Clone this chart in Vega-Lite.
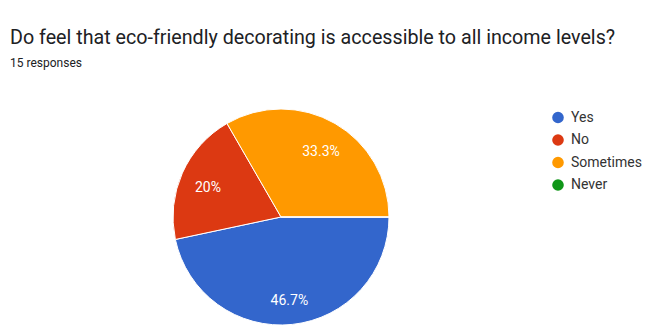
{
  "$schema": "https://vega.github.io/schema/vega-lite/v6.json",
  "autosize": "none",
  "width": 542,
  "height": 284,
  "padding": {"left": 10, "top": 75, "right": 93, "bottom": 0},
  "background": "white",
  "title": {
    "text": "Do feel that eco-friendly decorating is accessible to all income levels?",
    "subtitle": "15 responses",
    "anchor": "start",
    "frame": "group",
    "limit": 640,
    "font": "Roboto",
    "fontSize": 19.7,
    "fontWeight": "normal",
    "color": "#202124",
    "subtitleFont": "Roboto",
    "subtitleFontSize": 12,
    "subtitleColor": "#202124",
    "subtitlePadding": 10,
    "offset": 6
  },
  "data": {
    "values": [
      {"answer": "Yes", "responses": 7, "order": 1, "label": "46.7%"},
      {"answer": "No", "responses": 3, "order": 2, "label": "20%"},
      {"answer": "Sometimes", "responses": 5, "order": 3, "label": "33.3%"},
      {"answer": "Never", "responses": 0, "order": 4, "label": "0%"}
    ]
  },
  "encoding": {
    "theta": {
      "field": "responses",
      "type": "quantitative",
      "stack": true,
      "scale": {"range": [1.5707963, 7.8539816]}
    },
    "order": {"field": "order", "type": "quantitative"}
  },
  "layer": [
    {
      "mark": {"type": "arc", "outerRadius": 108, "stroke": "white", "strokeWidth": 1},
      "encoding": {
        "color": {
          "field": "answer",
          "type": "nominal",
          "scale": {
            "domain": ["Yes", "No", "Sometimes", "Never"],
            "range": ["#3366cc", "#dc3912", "#ff9900", "#109618"]
          },
          "legend": {
            "title": null,
            "orient": "none",
            "legendX": 541,
            "legendY": 35.5,
            "symbolType": "circle",
            "symbolSize": 135,
            "symbolStrokeWidth": 0,
            "labelFont": "Roboto",
            "labelFontSize": 14,
            "labelColor": "#333333",
            "labelOffset": 6,
            "labelLimit": 200,
            "rowPadding": 8.5,
            "padding": 0
          }
        }
      }
    },
    {
      "transform": [{"filter": "datum.responses > 0"}],
      "mark": {"type": "text", "radius": 80, "dy": 4, "fill": "white", "fontSize": 14, "font": "Roboto"},
      "encoding": {"text": {"field": "label", "type": "nominal"}}
    }
  ],
  "config": {"view": {"stroke": null}}
}
